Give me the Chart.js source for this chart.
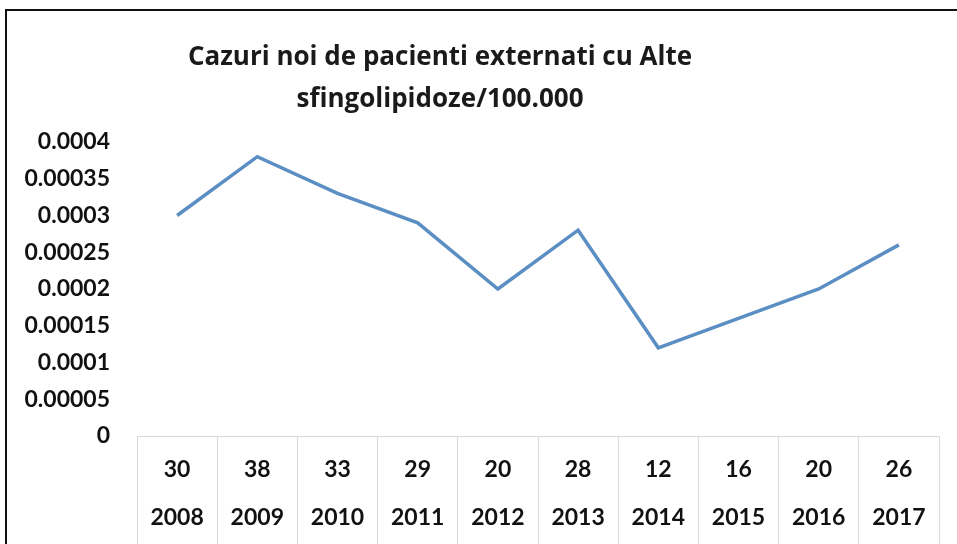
<!DOCTYPE html>
<html>
<head>
<meta charset="utf-8">
<script src="https://cdn.jsdelivr.net/npm/chart.js@4"></script>
<style>
    html, body { margin: 0; padding: 0; background: #fff; overflow: hidden; }
    #wrap { position: relative; width: 957px; height: 544px; }
    #frame {
        position: absolute; left: 5px; top: 9px; width: 1000px; height: 600px;
        border-top: 2px solid #111; border-left: 2px solid #111;
    }
    #chart { position: absolute; left: 0; top: 0; }
</style>
</head>
<body>
<div id="wrap">
    <div id="frame"></div>
    <canvas id="chart" width="957" height="544"></canvas>
</div>
<script>
// date grafic
const years = ['2008', '2009', '2010', '2011', '2012', '2013', '2014', '2015', '2016', '2017'];
const cases = ['30', '38', '33', '29', '20', '28', '12', '16', '20', '26'];
const rates = [0.0003, 0.00038, 0.00033, 0.00029, 0.0002, 0.00028, 0.00012, 0.00016, 0.0002, 0.00026];
const titleLines = ['Cazuri noi de pacienti externati cu Alte', 'sfingolipidoze/100.000'];

const FONT = 'Lato, "Open Sans", sans-serif';
const TITLE_FONT = '"Open Sans", Lato, sans-serif';

// titlul e desenat separat, centrat ca in original
const titlePlugin = {
    id: 'customTitle',
    afterDraw(chart) {
        const ctx = chart.ctx;
        ctx.save();
        ctx.fillStyle = '#1a1a1a';
        ctx.font = 'bold 26px ' + TITLE_FONT;
        ctx.textAlign = 'center';
        ctx.textBaseline = 'middle';
        ctx.fillText(titleLines[0], 440, 58);
        ctx.fillText(titleLines[1], 440, 100);
        ctx.restore();
    }
};

new Chart(document.getElementById('chart'), {
    type: 'line',
    data: {
        labels: cases.map((c, i) => [c, years[i]]),
        datasets: [{
            data: rates,
            borderColor: '#5b8fc4',
            borderWidth: 3.5,
            pointRadius: 0,
            tension: 0,
            fill: false
        }]
    },
    options: {
        responsive: false,
        animation: false,
        layout: { padding: { top: 142, right: 18, left: 0, bottom: 0 } },
        plugins: {
            legend: { display: false },
            tooltip: { enabled: false },
            title: { display: false }
        },
        scales: {
            x: {
                offset: true,
                grid: {
                    offset: true,
                    drawOnChartArea: false,
                    drawTicks: true,
                    tickLength: 120,
                    color: '#d9d9d9'
                },
                border: { display: true, color: '#d9d9d9', width: 1 },
                ticks: {
                    padding: -110,
                    color: '#111',
                    maxRotation: 0,
                    autoSkip: false,
                    font: { family: FONT, size: 23, weight: 'bold', lineHeight: 48 / 23 }
                },
                afterFit(scale) { scale.height = 108; }
            },
            y: {
                min: 0,
                max: 0.0004,
                grid: { display: false, drawTicks: false },
                border: { display: false },
                ticks: {
                    stepSize: 0.00005,
                    padding: 27,
                    color: '#111',
                    font: { family: FONT, size: 23, weight: 'bold' },
                    callback: v => String(Number(v.toFixed(5)))
                },
                afterFit(scale) { scale.width = 137; }
            }
        }
    },
    plugins: [titlePlugin]
});
</script>
</body>
</html>
